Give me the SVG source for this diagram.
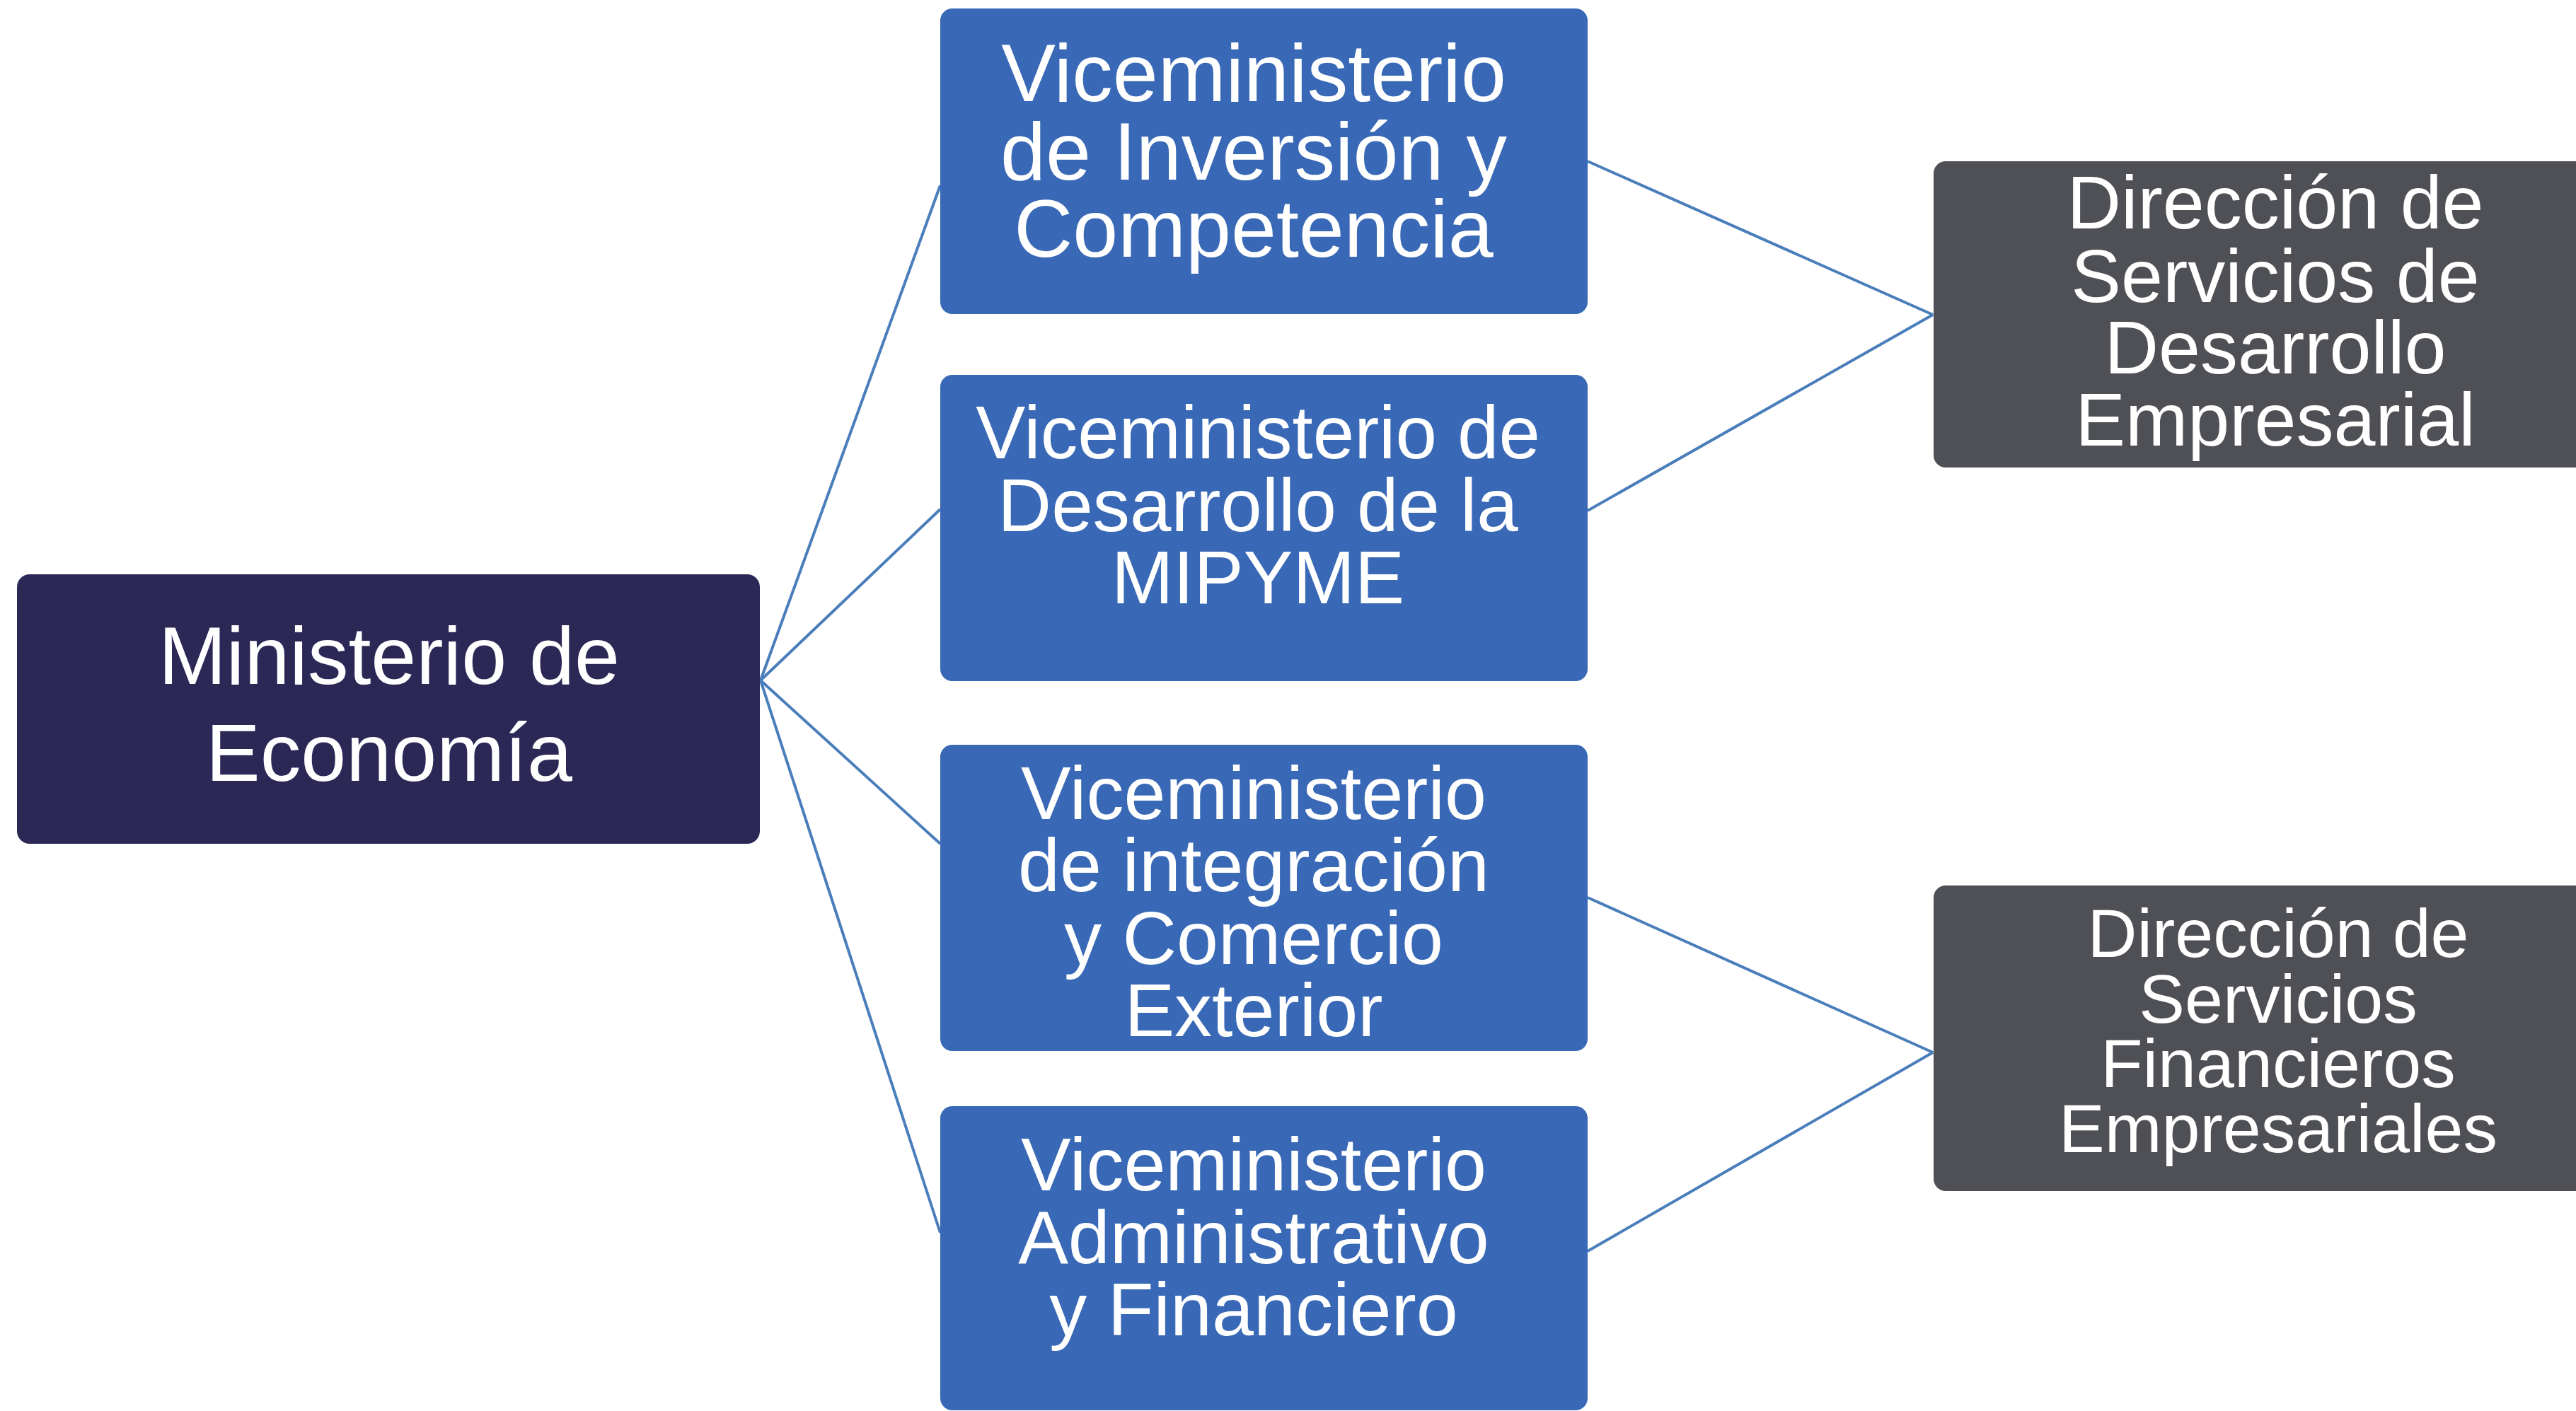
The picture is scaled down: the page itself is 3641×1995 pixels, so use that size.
<svg xmlns="http://www.w3.org/2000/svg" width="3641" height="1995" viewBox="0 0 3641 1995">
<style>
.t{font-family:"Liberation Sans",Arial,sans-serif;fill:#ffffff;text-anchor:middle}
.min{fill:#2B2856}
.vice{fill:#3868B6}
.dir{fill:#4F5055}
.conn{stroke:#4A7EBB;stroke-width:4;fill:none}
</style>
<rect width="3641" height="1995" fill="#ffffff"/>
<g id="connectors">
<line class="conn" x1="1075" y1="962" x2="1329" y2="262"/>
<line class="conn" x1="1075" y1="962" x2="1329" y2="720"/>
<line class="conn" x1="1075" y1="962" x2="1329" y2="1193"/>
<line class="conn" x1="1075" y1="962" x2="1329" y2="1743"/>
<line class="conn" x1="2244" y1="228" x2="2732" y2="445"/>
<line class="conn" x1="2244" y1="722" x2="2732" y2="445"/>
<line class="conn" x1="2244" y1="1269" x2="2732" y2="1488"/>
<line class="conn" x1="2244" y1="1769" x2="2732" y2="1488"/>
</g>
<g id="ministerio">
<rect class="min" x="24" y="812" width="1050" height="381" rx="18"/>
<text class="t" font-size="115" x="550"><tspan x="550" y="967">Ministerio de</tspan><tspan x="550" y="1104">Economía</tspan></text>
</g>
<g id="vice1">
<rect class="vice" x="1329" y="12" width="915" height="432" rx="17"/>
<text class="t" font-size="115"><tspan x="1772" y="143">Viceministerio</tspan><tspan x="1772" y="254">de Inversión y</tspan><tspan x="1772" y="363">Competencia</tspan></text>
</g>
<g id="vice2">
<rect class="vice" x="1329" y="530" width="915" height="433" rx="17"/>
<text class="t" font-size="105"><tspan x="1778" y="648">Viceministerio de</tspan><tspan x="1778" y="751">Desarrollo de la</tspan><tspan x="1778" y="853">MIPYME</tspan></text>
</g>
<g id="vice3">
<rect class="vice" x="1329" y="1053" width="915" height="433" rx="17"/>
<text class="t" font-size="106"><tspan x="1772" y="1158">Viceministerio</tspan><tspan x="1772" y="1260">de integración</tspan><tspan x="1772" y="1363">y Comercio</tspan><tspan x="1772" y="1465">Exterior</tspan></text>
</g>
<g id="vice4">
<rect class="vice" x="1329" y="1564" width="915" height="430" rx="17"/>
<text class="t" font-size="106"><tspan x="1772" y="1683">Viceministerio</tspan><tspan x="1772" y="1786">Administrativo</tspan><tspan x="1772" y="1888">y Financiero</tspan></text>
</g>
<g id="dir1">
<rect class="dir" x="2733" y="228" width="940" height="433" rx="17"/>
<text class="t" font-size="106"><tspan x="3216" y="323">Dirección de</tspan><tspan x="3216" y="427">Servicios de</tspan><tspan x="3216" y="528">Desarrollo</tspan><tspan x="3216" y="630">Empresarial</tspan></text>
</g>
<g id="dir2">
<rect class="dir" x="2733" y="1252" width="940" height="432" rx="17"/>
<text class="t" font-size="97"><tspan x="3220" y="1353">Dirección de</tspan><tspan x="3220" y="1446">Servicios</tspan><tspan x="3220" y="1537">Financieros</tspan><tspan x="3220" y="1629">Empresariales</tspan></text>
</g>
</svg>
